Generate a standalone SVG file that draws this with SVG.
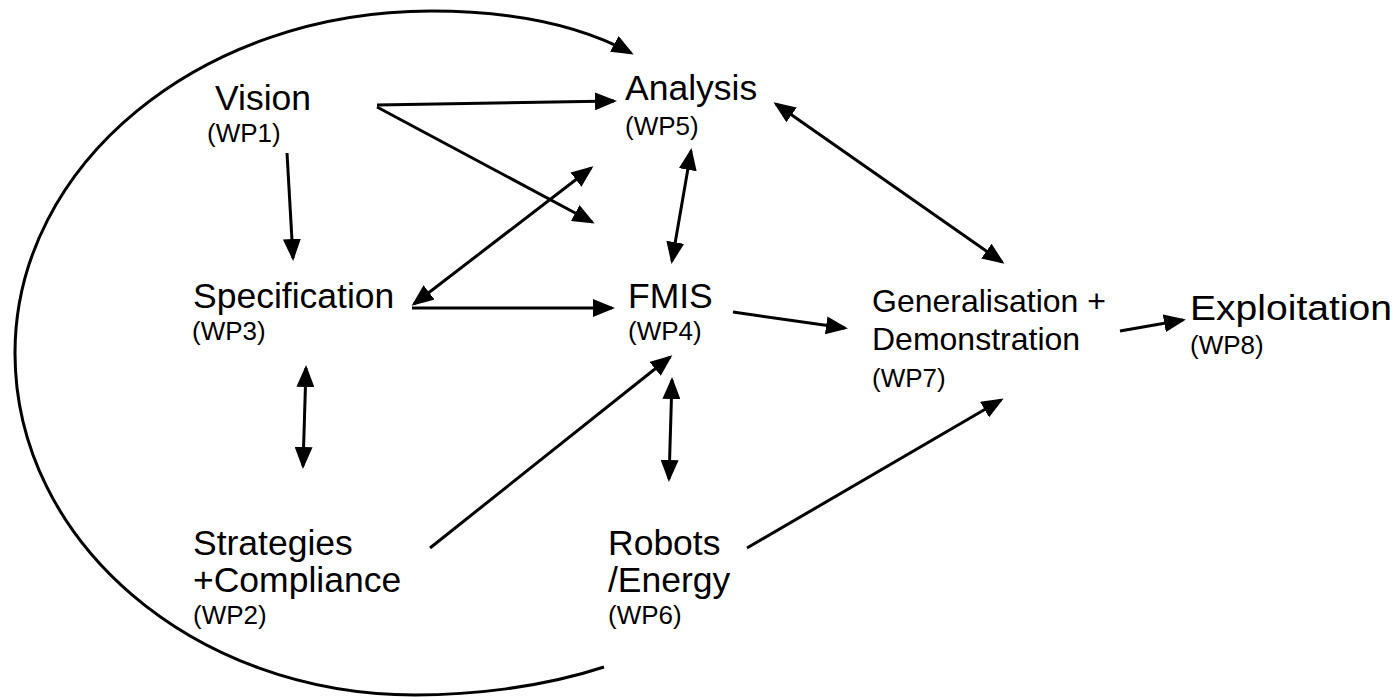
<svg xmlns="http://www.w3.org/2000/svg" width="1397" height="697" viewBox="0 0 1397 697">
<defs>
<marker id="ah" markerUnits="userSpaceOnUse" markerWidth="22" markerHeight="18" viewBox="0 0 22 18" refX="19" refY="9" orient="auto-start-reverse">
<path d="M0,0 L22,9 L0,18 z" fill="#000"/>
</marker>
<style>
.big{font-family:"Liberation Sans",Arial,sans-serif;font-size:35.5px;fill:#000}
.mid{font-family:"Liberation Sans",Arial,sans-serif;font-size:32px;fill:#000}
.sm{font-family:"Liberation Sans",Arial,sans-serif;font-size:26px;fill:#000}
.c{stroke:#000;stroke-width:3;fill:none}
.e{marker-end:url(#ah)}
.b{marker-start:url(#ah);marker-end:url(#ah)}
</style>
</defs>
<rect width="1397" height="697" fill="#fff"/>
<g id="connectors">
<path class="c e" d="M604,667 C540,688 470,695 415,695 C194,695 15,542 15,353 C15,164 201,11 431,11 C520,11 585,28 631,53"/>
<line class="c e" x1="377" y1="105" x2="614" y2="101"/>
<line class="c e" x1="377" y1="107" x2="592" y2="222"/>
<line class="c e" x1="287" y1="153" x2="293" y2="258"/>
<line class="c b" x1="414" y1="304" x2="591" y2="168"/>
<line class="c e" x1="412" y1="308" x2="612" y2="308"/>
<line class="c b" x1="691" y1="151" x2="672" y2="261"/>
<line class="c b" x1="776" y1="104" x2="1002" y2="262"/>
<line class="c e" x1="733" y1="312" x2="845" y2="328"/>
<line class="c e" x1="1120" y1="331" x2="1183" y2="320"/>
<line class="c b" x1="306" y1="368" x2="303" y2="466"/>
<line class="c e" x1="430" y1="548" x2="670" y2="357"/>
<line class="c b" x1="672" y1="380" x2="669" y2="479"/>
<line class="c e" x1="747" y1="548" x2="1001" y2="400"/>
</g>
<g id="wp1"><text class="big" x="215" y="110">Vision</text><text class="sm" x="207" y="142">(WP1)</text></g>
<g id="wp5"><text class="big" x="625" y="100">Analysis</text><text class="sm" x="625" y="135">(WP5)</text></g>
<g id="wp3"><text class="big" x="193" y="308">Specification</text><text class="sm" x="192" y="340">(WP3)</text></g>
<g id="wp4"><text class="big" x="628" y="308">FMIS</text><text class="sm" x="628" y="340">(WP4)</text></g>
<g id="wp7"><text class="mid" x="872" y="312">Generalisation +</text><text class="mid" x="872" y="350">Demonstration</text><text class="sm" x="872" y="387">(WP7)</text></g>
<g id="wp8"><text class="big" x="1190" y="320" textLength="202" lengthAdjust="spacingAndGlyphs">Exploitation</text><text class="sm" x="1190" y="354">(WP8)</text></g>
<g id="wp2"><text class="big" x="193" y="555">Strategies</text><text class="big" x="193" y="592">+Compliance</text><text class="sm" x="193" y="624">(WP2)</text></g>
<g id="wp6"><text class="big" x="608" y="555">Robots</text><text class="big" x="608" y="592">/Energy</text><text class="sm" x="608" y="624">(WP6)</text></g>
</svg>
